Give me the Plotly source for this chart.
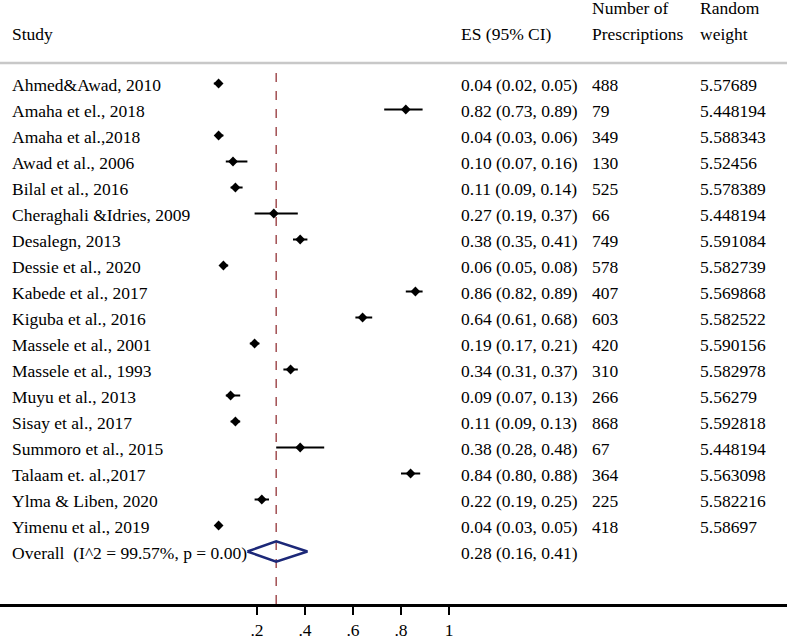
import plotly.graph_objects as go

studies = ["Ahmed&Awad, 2010", "Amaha et el., 2018", "Amaha et al.,2018", "Awad et al., 2006",
           "Bilal et al., 2016", "Cheraghali &Idries, 2009", "Desalegn, 2013", "Dessie et al., 2020",
           "Kabede et al., 2017", "Kiguba et al., 2016", "Massele et al., 2001", "Massele et al., 1993",
           "Muyu et al., 2013", "Sisay et al., 2017", "Summoro et al., 2015", "Talaam et. al.,2017",
           "Ylma & Liben, 2020", "Yimenu et al., 2019"]
es = [0.04, 0.82, 0.04, 0.10, 0.11, 0.27, 0.38, 0.06, 0.86, 0.64, 0.19, 0.34, 0.09, 0.11, 0.38, 0.84, 0.22, 0.04]
ci_low = [0.02, 0.73, 0.03, 0.07, 0.09, 0.19, 0.35, 0.05, 0.82, 0.61, 0.17, 0.31, 0.07, 0.09, 0.28, 0.80, 0.19, 0.03]
ci_high = [0.05, 0.89, 0.06, 0.16, 0.14, 0.37, 0.41, 0.08, 0.89, 0.68, 0.21, 0.37, 0.13, 0.13, 0.48, 0.88, 0.25, 0.05]
n_prescriptions = [488, 79, 349, 130, 525, 66, 749, 578, 407, 603, 420, 310, 266, 868, 67, 364, 225, 418]
weights = ["5.57689", "5.448194", "5.588343", "5.52456", "5.578389", "5.448194", "5.591084", "5.582739",
           "5.569868", "5.582522", "5.590156", "5.582978", "5.56279", "5.592818", "5.448194", "5.563098",
           "5.582216", "5.58697"]
overall_es, overall_low, overall_high = 0.28, 0.16, 0.41
i2, p_value = 99.57, 0.00

tick_vals = [0.2, 0.4, 0.6, 0.8, 1]
tick_text = [".2", ".4", ".6", ".8", "1"]

FONT = "Liberation Serif, Times New Roman, serif"
FS = 17.5
W, H = 787, 636
PLOT_H = 604
ROW0, ROW_H = 83.5, 26
X0, X_UNIT = 209, 240

rows = list(range(len(studies)))
overall_row = len(studies)

fig = go.Figure()

# CI lines
lx, ly = [], []
for i in rows:
    lx += [ci_low[i], ci_high[i], None]
    ly += [i, i, None]
fig.add_trace(go.Scatter(x=lx, y=ly, mode="lines", line=dict(color="black", width=2),
                         hoverinfo="skip", showlegend=False))
fig.add_trace(go.Scatter(x=es, y=rows, mode="markers",
                         marker=dict(symbol="diamond", size=7.5, color="black"),
                         showlegend=False))

# overall diamond
h = 0.39
fig.add_trace(go.Scatter(x=[overall_low, overall_es, overall_high, overall_es, overall_low],
                         y=[overall_row, overall_row - h, overall_row, overall_row + h, overall_row],
                         mode="lines", line=dict(color="#1c2878", width=2.5), showlegend=False))

fig.add_shape(type="line", xref="x", yref="paper", x0=overall_es, x1=overall_es,
              y0=0, y1=1 - 64 / PLOT_H, line=dict(color="#a24f52", width=1.5, dash="dash"), layer="below")
fig.add_shape(type="line", xref="paper", yref="paper", x0=0, x1=1,
              y0=1 - 63 / PLOT_H, y1=1 - 63 / PLOT_H, line=dict(color="#c8c8c8", width=2.5))

def txt(x_px, y, s, yref="y"):
    fig.add_annotation(x=x_px / W, xref="paper", y=y, yref=yref, text=s, showarrow=False,
                       xanchor="left", yanchor="middle", yshift=-1,
                       font=dict(family=FONT, size=FS, color="black"))

col_study, col_es, col_n, col_w = 10, 459, 590, 698
for i in rows:
    txt(col_study, i, studies[i])
    txt(col_es, i, f"{es[i]:.2f} ({ci_low[i]:.2f}, {ci_high[i]:.2f})")
    txt(col_n, i, str(n_prescriptions[i]))
    txt(col_w, i, weights[i])
txt(col_study, overall_row, f"Overall\u00a0 (I^2 = {i2:.2f}%, p = {p_value:.2f})")
txt(col_es, overall_row, f"{overall_es:.2f} ({overall_low:.2f}, {overall_high:.2f})")

y_hdr2 = 1 - 33 / PLOT_H
y_hdr1 = 1 - 7.5 / PLOT_H
txt(col_study, y_hdr2, "Study", "paper")
txt(col_es, y_hdr2, "ES (95% CI)", "paper")
txt(col_n, y_hdr1, "Number of", "paper")
txt(col_n, y_hdr2, "Prescriptions", "paper")
txt(col_w, y_hdr1, "Random", "paper")
txt(col_w, y_hdr2, "weight", "paper")

fig.update_layout(
    width=W, height=H, margin=dict(l=0, r=0, t=0, b=H - PLOT_H),
    plot_bgcolor="white", paper_bgcolor="white",
    font=dict(family=FONT, size=FS, color="black"),
    xaxis=dict(range=[-X0 / X_UNIT, (W - X0) / X_UNIT], tickvals=tick_vals, ticktext=tick_text,
               showline=True, linecolor="black", linewidth=2.5, ticks="outside", ticklen=8,
               tickwidth=2, tickcolor="black", showgrid=False, zeroline=False, automargin=False,
               tickfont=dict(family=FONT, size=FS)),
    yaxis=dict(range=[(PLOT_H - ROW0) / ROW_H, -ROW0 / ROW_H], visible=False, showgrid=False),
)

# drop the browser's default 8px body margin so the figure sits at the page corner
fig.write_html("out.html", config={"displayModeBar": False},
               post_script="document.body.style.margin='0';document.body.style.overflow='hidden';")
